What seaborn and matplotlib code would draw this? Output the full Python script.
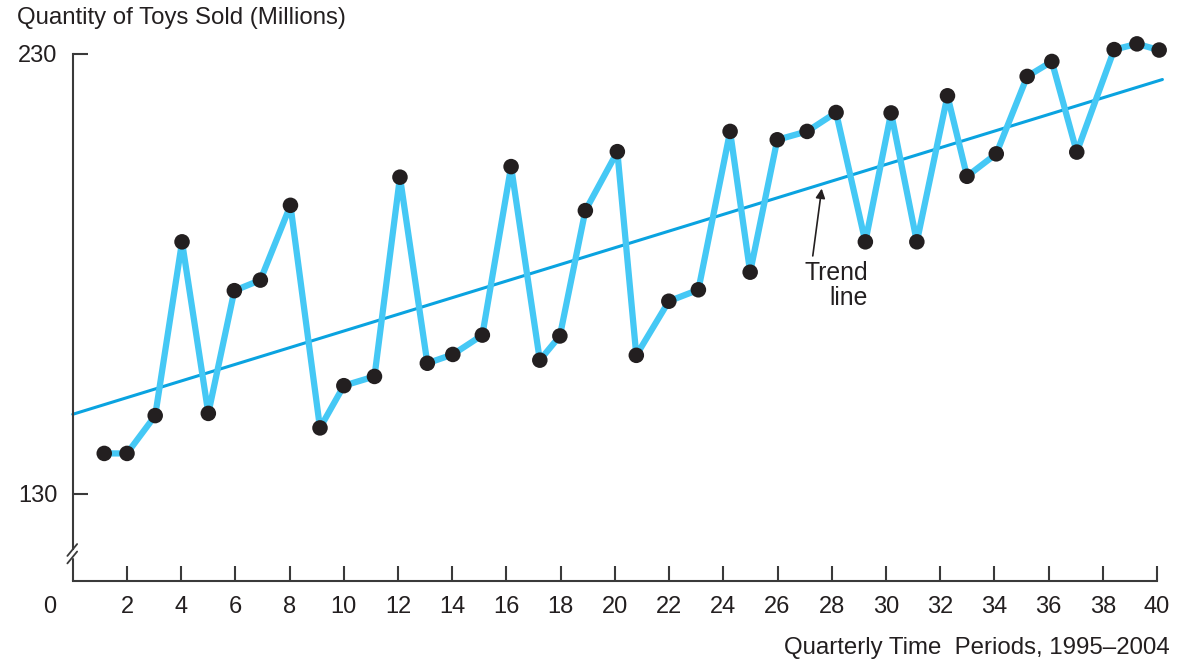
import numpy as np
import pandas as pd
import matplotlib
matplotlib.use("Agg")
import matplotlib.pyplot as plt
import seaborn as sns

# quarterly periods (as plotted) and toy sales in millions
quarter = [1.16, 2.0, 3.04, 4.03, 5.0, 5.96, 6.92, 8.03, 9.12, 10.0,
           11.13, 12.07, 13.08, 14.02, 15.11, 16.17, 17.23, 17.97, 18.91, 20.09,
           20.79, 21.99, 23.08, 24.25, 24.99, 25.99, 27.09, 28.16, 29.24, 30.19,
           31.14, 32.27, 32.99, 34.07, 35.21, 36.12, 37.04, 38.42, 39.26, 40.08]
sales = [139.2, 139.2, 147.8, 187.3, 148.3, 176.2, 178.6, 195.6, 145.0, 154.6,
         156.7, 202.0, 159.7, 161.7, 166.1, 204.4, 160.4, 165.9, 194.4, 207.8,
         161.5, 173.8, 176.4, 212.4, 180.4, 210.5, 212.4, 216.7, 187.3, 216.6,
         187.3, 220.5, 202.2, 207.3, 224.9, 228.3, 207.7, 231.0, 232.3, 230.9]

trend_x = [0, 40.2]
trend_y = [148.1, 224.2]

x_ticks = list(range(2, 41, 2))
y_ticks = [130, 230]

YMIN, YMAX = 110.2, 236
BREAK_Y = 116.4

df = pd.DataFrame({"quarter": quarter, "sales": sales})
trend = pd.DataFrame({"x": trend_x, "y": trend_y})

sns.set_style("white")
plt.rcParams['font.family'] = ['Liberation Sans', 'DejaVu Sans']
FS = 17.3

axis_col = "#3a3a3a"
txt_col = "#231f20"
fig = plt.figure(figsize=(11.8, 6.65), dpi=100)
ax = fig.add_axes([72.8 / 1180, 84 / 665, (1157 - 72.8) / 1180, 553.4 / 665])

sns.lineplot(data=trend, x="x", y="y", ax=ax, color="#0aa3e0", lw=2.2, zorder=2,
             clip_on=False)
sns.lineplot(data=df, x="quarter", y="sales", ax=ax, color="#45c8f5", lw=4.5,
             zorder=3, sort=False, clip_on=False)
sns.scatterplot(data=df, x="quarter", y="sales", ax=ax, color=txt_col, s=125,
                edgecolor="none", zorder=4, clip_on=False)

ax.set_xlim(0, 40)
ax.set_ylim(YMIN, YMAX)
ax.set_xticks(x_ticks)
ax.set_yticks(y_ticks)
ax.set_xlabel("")
ax.set_ylabel("")

for s in ["top", "right"]:
    ax.spines[s].set_visible(False)
ax.spines["bottom"].set_bounds(0, 40)
ax.spines["left"].set_bounds(BREAK_Y + 1.1, 230)
for s in ["left", "bottom"]:
    ax.spines[s].set_color(axis_col)
    ax.spines[s].set_linewidth(1.5)

ax.tick_params(axis="both", direction="in", length=11, width=1.5, color=axis_col,
               labelsize=17, labelcolor=txt_col, bottom=True, left=True)
ax.tick_params(axis="x", pad=11)
ax.tick_params(axis="y", pad=11)

# lower piece of the broken y axis and the break mark
ax.plot([0, 0], [YMIN, BREAK_Y - 1.1], color=axis_col, lw=1.5, clip_on=False)
for dy in (-0.85, 0.85):
    ax.plot([-0.2, 0.16], [BREAK_Y + dy - 1.35, BREAK_Y + dy + 1.35],
            color=axis_col, lw=1.3, clip_on=False)

ax.annotate("0", xy=(-0.84, 0), xycoords=("data", "axes fraction"),
            xytext=(0, -11), textcoords="offset points", ha="center", va="top",
            fontsize=17, color=txt_col, annotation_clip=False)

# trend line callout
ax.annotate("", xy=(27.63, 199.4), xytext=(27.3, 184.1),
            arrowprops=dict(arrowstyle="-|>", color=txt_col, lw=1.2,
                            mutation_scale=14, shrinkA=0, shrinkB=0))
ax.text(29.34, 183.0, "Trend\nline", ha="right", va="top", fontsize=FS + 0.5,
        color=txt_col, linespacing=1.05)

fig.text(17 / 1180, 1 - 18 / 665, "Quantity of Toys Sold (Millions)",
         ha="left", va="center", fontsize=FS, color=txt_col)
fig.text(1170 / 1180, 1 - 648 / 665, "Quarterly Time  Periods, 1995\u20132004",
         ha="right", va="center", fontsize=FS, color=txt_col)

fig.savefig("out.png", dpi=100)
